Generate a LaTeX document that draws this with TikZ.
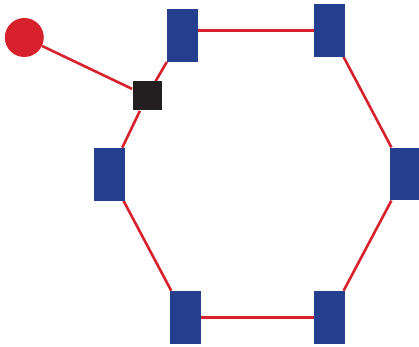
\documentclass[tikz,border=0pt]{standalone}
\usetikzlibrary{positioning,backgrounds}
\definecolor{ringred}{HTML}{D7222E}
\definecolor{hubblue}{HTML}{243F8D}
\definecolor{tapblack}{HTML}{231F20}
\newlength{\unit}
\setlength{\unit}{0.02cm}
\tikzset{
  station/.style={rectangle,fill=hubblue,minimum width=31\unit,minimum height=52.5\unit,
                  inner sep=0pt},
  tap/.style={rectangle,fill=tapblack,minimum size=29\unit,inner sep=0pt},
  host/.style={circle,fill=ringred,minimum size=39\unit,inner sep=0pt},
  link/.style={draw=ringred,line width=2.6\unit},
}
\begin{document}
\begin{tikzpicture}[x=0.02cm,y=-0.02cm]
  \useasboundingbox (0,0) rectangle (419,347);
  % ring stations, clockwise from top left
  \node[station] (tl) at (182.3,35.3) {};
  \node[station] (tr) at (329.5,30.3) {};
  \node[station] (rt) at (405.5,174) {};
  \node[station] (br) at (329.5,317.3) {};
  \node[station] (bl) at (185.3,317.3) {};
  \node[station] (lt) at (109.5,174.3) {};
  \node[tap] (sq) at (147,96) {};
  \node[host] (pc) at (24.3,37.5) {};

  % links sit under the nodes
  \begin{scope}[on background layer]
    \draw[link] (tr -| tl) -- (tr);
    \draw[link] (tr) -- (rt);
    \draw[link] (rt) -- (br);
    \draw[link] (br) -- (bl);
    \draw[link] (bl) -- (lt);
    \draw[link] (lt) -- (sq);
    \draw[link] (sq) -- (tl);
    \draw[link] (pc) -- (sq);
  \end{scope}
\end{tikzpicture}
\end{document}
